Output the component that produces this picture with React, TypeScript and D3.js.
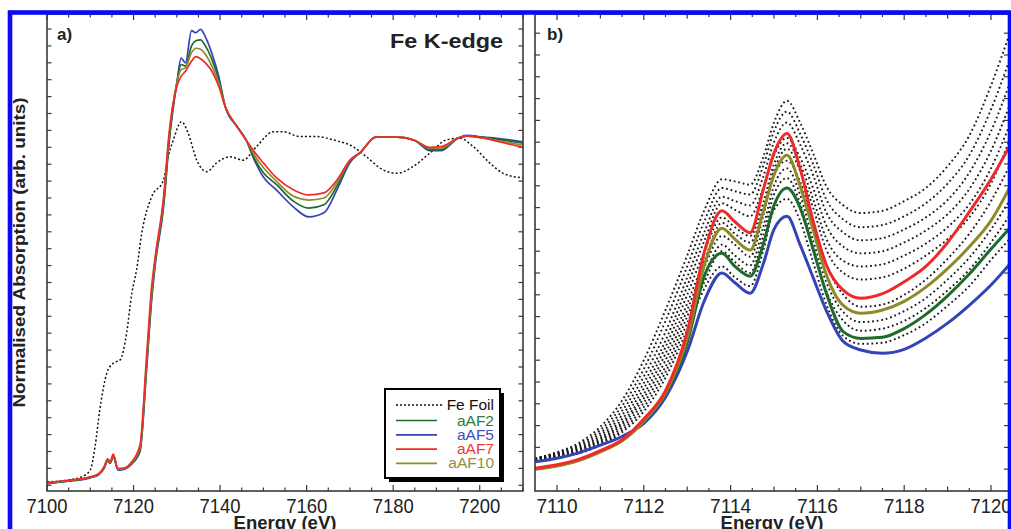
import React from "react";
import * as d3 from "d3";

// ---------- Panel a data (normalised absorption) ----------
const energyA = [7100, 7105, 7110, 7112, 7113.2, 7114, 7114.6, 7115.3, 7116.4, 7118, 7119.5, 7121.5, 7123, 7124.2, 7125, 7127, 7128.2, 7130, 7131, 7132, 7133.4, 7134.4, 7135.5, 7136.6, 7138.1, 7139.7, 7141.2, 7144, 7146, 7148, 7150, 7153, 7157, 7160.5, 7164, 7167, 7170, 7172.5, 7176, 7181, 7185, 7188.5, 7191, 7195, 7197, 7201, 7205, 7210];
const aAF5A = [0.005, 0.012, 0.022, 0.032, 0.05, 0.072, 0.065, 0.085, 0.045, 0.048, 0.062, 0.1, 0.34, 0.55, 0.65, 0.83, 1.01, 1.19, 1.264, 1.25, 1.345, 1.339, 1.349, 1.327, 1.278, 1.209, 1.12, 1.06, 1.022, 0.96, 0.912, 0.874, 0.823, 0.794, 0.806, 0.874, 0.954, 0.986, 1.03, 1.03, 1.02, 0.99, 0.99, 1.027, 1.035, 1.03, 1.025, 1.016];
const aAF2A = [0.006, 0.013, 0.023, 0.033, 0.052, 0.074, 0.067, 0.087, 0.047, 0.05, 0.064, 0.105, 0.35, 0.56, 0.66, 0.84, 1.02, 1.19, 1.245, 1.24, 1.3, 1.315, 1.318, 1.3, 1.26, 1.2, 1.12, 1.06, 1.022, 0.965, 0.925, 0.89, 0.84, 0.82, 0.83, 0.885, 0.958, 0.986, 1.03, 1.03, 1.02, 0.993, 0.993, 1.027, 1.034, 1.029, 1.022, 1.012];
const aAF10A = [0.007, 0.014, 0.024, 0.034, 0.053, 0.076, 0.068, 0.089, 0.048, 0.05, 0.066, 0.11, 0.36, 0.57, 0.665, 0.85, 1.03, 1.19, 1.23, 1.235, 1.28, 1.293, 1.29, 1.275, 1.24, 1.19, 1.12, 1.06, 1.022, 0.975, 0.94, 0.9, 0.855, 0.844, 0.85, 0.895, 0.96, 0.986, 1.03, 1.03, 1.02, 0.997, 0.997, 1.027, 1.033, 1.027, 1.018, 1.006];
const aAF7A = [0.008, 0.015, 0.025, 0.035, 0.055, 0.078, 0.07, 0.092, 0.05, 0.052, 0.068, 0.12, 0.38, 0.59, 0.675, 0.86, 1.04, 1.18, 1.21, 1.225, 1.255, 1.268, 1.262, 1.25, 1.225, 1.18, 1.12, 1.06, 1.022, 0.985, 0.954, 0.91, 0.874, 0.859, 0.865, 0.903, 0.962, 0.986, 1.03, 1.03, 1.02, 1.0, 1.002, 1.027, 1.033, 1.027, 1.015, 1.0];
const foilEnergy = [7100, 7105, 7108, 7110, 7111.1, 7112.2, 7113.8, 7115.3, 7116.9, 7118.4, 7119.6, 7120.7, 7121.9, 7124.2, 7126.9, 7128, 7129.2, 7131.1, 7132.6, 7134.6, 7136.9, 7139.2, 7142.3, 7145.3, 7148.4, 7152.3, 7154.6, 7158.4, 7162.3, 7166.1, 7170.7, 7173.8, 7177.7, 7180.8, 7184.6, 7188.5, 7192.3, 7195.4, 7198.5, 7202.3, 7205.4, 7208, 7210];
const foilA = [0.01, 0.016, 0.025, 0.045, 0.114, 0.223, 0.331, 0.361, 0.371, 0.45, 0.568, 0.637, 0.746, 0.854, 0.903, 0.972, 1.022, 1.076, 1.042, 0.962, 0.928, 0.954, 0.972, 0.962, 1.002, 1.046, 1.046, 1.032, 1.032, 1.022, 1.002, 0.972, 0.933, 0.923, 0.943, 0.983, 1.022, 1.027, 1.002, 0.954, 0.923, 0.913, 0.91];

// ---------- Panel b data (pre-edge, arb. units) ----------
const energyB = [7109.5, 7110, 7110.5, 7111, 7111.5, 7112, 7112.5, 7113, 7113.4, 7113.8, 7114.1, 7114.45, 7114.75, 7115, 7115.3, 7115.6, 7115.9, 7116.2, 7116.6, 7117, 7117.5, 7118, 7118.5, 7119, 7119.5, 7120, 7120.45];
const dotted1 = [1.5, 1.78, 2.2, 2.95, 4.15, 6.0, 8.3, 10.8, 12.9, 14.3, 14.2, 14.05, 15.3, 16.9, 17.9, 16.9, 15.5, 14.0, 13.1, 12.75, 12.85, 13.3, 13.9, 14.9, 16.3, 18.6, 21.1];
const dotted2 = [1.5, 1.75, 2.12, 2.8, 3.9, 5.6, 7.8, 10.3, 12.4, 13.9, 13.75, 13.6, 14.9, 16.5, 17.4, 16.4, 15.0, 13.4, 12.45, 12.1, 12.2, 12.6, 13.2, 14.1, 15.4, 17.5, 19.9];
const dotted3 = [1.49, 1.72, 2.05, 2.66, 3.68, 5.25, 7.3, 9.8, 11.9, 13.5, 13.3, 13.1, 14.4, 16.0, 16.9, 15.9, 14.5, 12.8, 11.85, 11.5, 11.6, 12.0, 12.55, 13.35, 14.6, 16.5, 18.8];
const dotted4 = [1.48, 1.69, 1.98, 2.54, 3.48, 4.95, 6.9, 9.4, 11.5, 13.2, 12.9, 12.6, 13.9, 15.4, 16.2, 15.3, 13.9, 12.2, 11.2, 10.9, 11.0, 11.4, 11.95, 12.7, 13.85, 15.6, 17.8];
const dotted5 = [1.47, 1.66, 1.92, 2.44, 3.3, 4.7, 6.6, 9.0, 11.0, 12.55, 12.1, 11.7, 13.2, 15.0, 15.95, 15.0, 13.4, 11.6, 10.55, 10.3, 10.4, 10.8, 11.35, 12.1, 13.15, 14.8, 16.9];
const dotted6 = [1.46, 1.63, 1.87, 2.36, 3.15, 4.45, 6.3, 8.6, 10.6, 12.3, 11.8, 11.4, 12.9, 14.7, 15.7, 14.7, 13.0, 11.1, 10.0, 9.7, 9.8, 10.2, 10.8, 11.55, 12.55, 14.1, 16.2];
const dotted7 = [1.45, 1.61, 1.83, 2.3, 3.05, 4.25, 6.0, 8.3, 10.3, 11.7, 11.3, 10.75, 12.6, 14.5, 15.15, 14.2, 12.3, 10.4, 9.0, 8.45, 8.55, 9.0, 9.7, 10.65, 11.8, 13.3, 15.0];
const dotted8 = [1.44, 1.58, 1.78, 2.22, 2.92, 4.05, 5.7, 8.0, 9.9, 11.3, 10.8, 10.35, 12.1, 14.0, 14.8, 13.6, 11.5, 9.6, 8.2, 7.75, 7.85, 8.25, 8.85, 9.7, 10.7, 12.0, 13.4];
const dotted9 = [1.43, 1.56, 1.75, 2.16, 2.8, 3.85, 5.45, 7.7, 9.6, 11.0, 10.5, 10.0, 11.7, 13.6, 14.35, 13.2, 11.1, 9.2, 7.8, 7.35, 7.45, 7.8, 8.4, 9.2, 10.15, 11.4, 12.7];
const dotted10 = [1.42, 1.54, 1.72, 2.1, 2.7, 3.65, 5.2, 7.4, 9.3, 10.3, 9.8, 9.4, 11.0, 12.9, 13.4, 12.4, 10.5, 8.6, 7.1, 6.75, 6.8, 7.15, 7.7, 8.5, 9.4, 10.6, 11.6];
const aAF5B = [1.34, 1.5, 1.75, 2.1, 2.5, 3.1, 4.3, 6.4, 8.75, 10.0, 9.55, 9.07, 10.4, 12.0, 12.6, 11.3, 9.8, 8.3, 6.85, 6.47, 6.32, 6.5, 7.02, 7.7, 8.52, 9.45, 10.45];
const aAF2B = [1.02, 1.17, 1.42, 1.82, 2.32, 3.2, 4.45, 6.8, 9.9, 10.9, 10.3, 9.85, 11.3, 13.1, 13.9, 13.0, 11.1, 9.1, 7.3, 7.0, 7.05, 7.45, 8.1, 8.95, 9.95, 11.1, 12.1];
const aAF10B = [1.0, 1.15, 1.4, 1.8, 2.3, 3.2, 4.5, 7.0, 10.4, 12.05, 11.55, 11.05, 12.8, 14.5, 15.4, 14.0, 12.0, 9.95, 8.5, 8.15, 8.3, 8.7, 9.35, 10.2, 11.2, 12.4, 14.0];
const aAF7B = [1.04, 1.2, 1.45, 1.85, 2.35, 3.3, 4.6, 7.3, 11.0, 12.85, 12.35, 11.85, 13.8, 15.5, 16.4, 14.8, 12.4, 10.4, 9.2, 8.84, 9.05, 9.6, 10.3, 11.4, 12.8, 14.3, 15.9];

// ---------- labels ----------
const xTickLabelsA = [7100, 7120, 7140, 7160, 7180, 7200];
const xTickLabelsB = [7110, 7112, 7114, 7116, 7118, 7120];
const sampleNames = ["aAF2", "aAF5", "aAF7", "aAF10"];
const foilName = "Fe Foil";
const lineColors: Record<string, string> = { aAF2: "#1c6a2c", aAF5: "#3443b6", aAF7: "#ef2a2a", aAF10: "#8d8a28" };
const textColors: Record<string, string> = { aAF2: "#2f7a3c", aAF5: "#4a4cc0", aAF7: "#ea3b3b", aAF10: "#918f3c" };

const FONT = "'Liberation Sans', Arial, Helvetica, sans-serif";
const A = { left: 47, right: 523, top: 14, bottom: 491 };
const B = { left: 535, right: 1009, top: 14, bottom: 491 };

type Pt = [number, number];
const zip = (xs: number[], ys: number[]): Pt[] => xs.map((x, i) => [x, ys[i]] as Pt);

export default function App() {
  const xA = d3.scaleLinear().domain([7100, 7210]).range([A.left, A.right]);
  const yA = d3.scaleLinear().domain([-0.0169, 1.3944]).range([A.bottom, A.top]);
  const xB = d3.scaleLinear().domain([7109.493, 7120.415]).range([B.left, B.right]);
  const yB = d3.scaleLinear().domain([0, 21.88]).range([B.bottom, B.top]);

  const lineA = d3.line<Pt>().x((d) => xA(d[0])).y((d) => yA(d[1])).curve(d3.curveMonotoneX);
  const lineB = d3.line<Pt>().x((d) => xB(d[0])).y((d) => yB(d[1])).curve(d3.curveMonotoneX);

  const seriesA: Record<string, number[]> = { aAF2: aAF2A, aAF5: aAF5A, aAF7: aAF7A, aAF10: aAF10A };
  const seriesB: Record<string, number[]> = { aAF2: aAF2B, aAF5: aAF5B, aAF7: aAF7B, aAF10: aAF10B };
  const dottedB = [dotted1, dotted2, dotted3, dotted4, dotted5, dotted6, dotted7, dotted8, dotted9, dotted10];
  const drawOrder = ["aAF5", "aAF2", "aAF10", "aAF7"];

  const frame = "#3a3a3a";

  const xTicksA = d3.range(7100, 7211, 5);
  const yTicksA = d3.range(0, 1.39, 0.05);
  const xTicksB = d3.range(7110, 7120.45, 0.5);
  const yTicksB = d3.range(1, 21.9, 1);

  return (
    <svg width={1011} height={529} style={{ position: "absolute", left: 0, top: 0, background: "#fff" }} fontFamily={FONT}>
      <defs>
        <clipPath id="clipA"><rect x={A.left} y={A.top} width={A.right - A.left} height={A.bottom - A.top} /></clipPath>
        <clipPath id="clipB"><rect x={B.left} y={B.top} width={B.right - B.left} height={B.bottom - B.top} /></clipPath>
      </defs>
      <rect x={0} y={0} width={1011} height={529} fill="#fff" />

      {/* ---------------- Panel a ---------------- */}
      <g>
        {xTicksA.map((t) => {
          const len = t % 20 === 0 ? 6 : 3.5;
          return (
            <g key={"xa" + t} stroke={frame} strokeWidth={1.2}>
              <line x1={xA(t)} x2={xA(t)} y1={A.bottom} y2={A.bottom - len} />
              <line x1={xA(t)} x2={xA(t)} y1={A.top} y2={A.top + len} />
            </g>
          );
        })}
        {yTicksA.map((t, i) => (
          <g key={"ya" + i} stroke={frame} strokeWidth={1.2}>
            <line x1={A.left} x2={A.left + 4.5} y1={yA(t)} y2={yA(t)} />
            <line x1={A.right} x2={A.right - 4.5} y1={yA(t)} y2={yA(t)} />
          </g>
        ))}
        <g clipPath="url(#clipA)" fill="none">
          <path d={lineA(zip(foilEnergy, foilA)) || ""} stroke="#111" strokeWidth={1.5} strokeDasharray="2 2.2" />
          {drawOrder.map((n) => (
            <path key={"a" + n} d={lineA(zip(energyA, seriesA[n])) || ""} stroke={lineColors[n]} strokeWidth={1.7} strokeLinejoin="round" />
          ))}
        </g>
        <rect x={A.left} y={A.top} width={A.right - A.left} height={A.bottom - A.top} fill="none" stroke={frame} strokeWidth={1.6} />
        {xTickLabelsA.map((t) => (
          <text key={"la" + t} x={xA(t)} y={513} fontSize={21} textAnchor="middle" fill="#222" textLength={41} lengthAdjust="spacingAndGlyphs">{t}</text>
        ))}
        <text x={(A.left + A.right) / 2} y={529} fontSize={18.5} fontWeight="bold" textAnchor="middle" fill="#222">Energy (eV)</text>
        <text transform={`translate(25,${(A.top + A.bottom) / 2}) rotate(-90)`} fontSize={17} fontWeight="bold" textAnchor="middle" fill="#222" textLength={310} lengthAdjust="spacingAndGlyphs">Normalised Absorption (arb. units)</text>
        <text x={57} y={40} fontSize={17} fontWeight="bold" fill="#222">a)</text>
        <text x={503} y={48} fontSize={21} fontWeight="bold" textAnchor="end" fill="#222" textLength={113} lengthAdjust="spacingAndGlyphs">Fe K-edge</text>

        {/* legend */}
        <rect x={389} y={393} width={115} height={89} fill="#000" />
        <rect x={385} y={389} width={115} height={89} fill="#fff" stroke="#000" strokeWidth={2} />
        <line x1={396} x2={442} y1={405} y2={405} stroke="#111" strokeWidth={1.4} strokeDasharray="2 2" />
        <text x={494} y={410} fontSize={15.5} textAnchor="end" fill="#111">{foilName}</text>
        {sampleNames.map((n, i) => {
          const yy = 420.5 + i * 14.3;
          return (
            <g key={"lg" + n}>
              <line x1={396} x2={437} y1={yy} y2={yy} stroke={lineColors[n]} strokeWidth={1.7} />
              <text x={494} y={yy + 5} fontSize={15.5} textAnchor="end" fill={textColors[n]}>{n}</text>
            </g>
          );
        })}
      </g>

      {/* ---------------- Panel b ---------------- */}
      <g>
        {xTicksB.map((t, i) => {
          const r = Math.round(t * 2) / 2;
          const len = r % 2 === 0 ? 6 : r % 1 === 0 ? 4.5 : 3;
          return (
            <g key={"xb" + i} stroke={frame} strokeWidth={1.2}>
              <line x1={xB(t)} x2={xB(t)} y1={B.bottom} y2={B.bottom - len} />
              <line x1={xB(t)} x2={xB(t)} y1={B.top} y2={B.top + len} />
            </g>
          );
        })}
        {yTicksB.map((t, i) => (
          <g key={"yb" + i} stroke={frame} strokeWidth={1.2}>
            <line x1={B.left} x2={B.left + 5} y1={yB(t)} y2={yB(t)} />
            <line x1={B.right} x2={B.right - 5} y1={yB(t)} y2={yB(t)} />
          </g>
        ))}
        <g clipPath="url(#clipB)" fill="none">
          {dottedB.map((vals, i) => (
            <path key={"d" + i} d={lineB(zip(energyB, vals)) || ""} stroke="#1a1a1a" strokeWidth={1.9} strokeDasharray="1.8 2.8" />
          ))}
          {drawOrder.map((n) => (
            <path key={"b" + n} d={lineB(zip(energyB, seriesB[n])) || ""} stroke={lineColors[n]} strokeWidth={3} strokeLinejoin="round" />
          ))}
        </g>
        <rect x={B.left} y={B.top} width={B.right - B.left} height={B.bottom - B.top} fill="none" stroke={frame} strokeWidth={1.6} />
        {xTickLabelsB.map((t) => (
          <text key={"lb" + t} x={xB(t)} y={513} fontSize={21} textAnchor="middle" fill="#222" textLength={41} lengthAdjust="spacingAndGlyphs">{t}</text>
        ))}
        <text x={(B.left + B.right) / 2} y={529} fontSize={18.5} fontWeight="bold" textAnchor="middle" fill="#222">Energy (eV)</text>
        <text x={547} y={40} fontSize={17} fontWeight="bold" fill="#222">b)</text>
      </g>

      {/* blue outer frame */}
      <rect x={10} y={12.5} width={1000} height={600} fill="none" stroke="#0a0af5" strokeWidth={4.6} />
    </svg>
  );
}
